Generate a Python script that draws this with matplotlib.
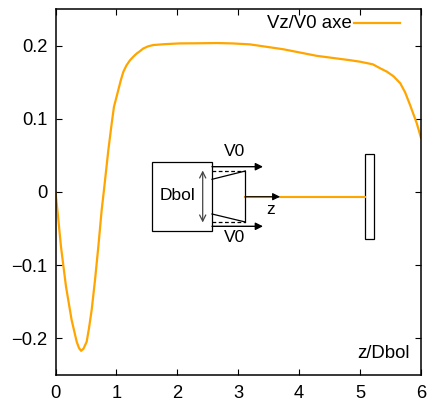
import matplotlib
matplotlib.use("Agg")
import matplotlib.pyplot as plt
from matplotlib.lines import Line2D
from matplotlib.patches import Rectangle, FancyArrowPatch

plt.rcParams['font.family'] = ['Liberation Sans', 'DejaVu Sans']

z_dbol = [0, 0.04, 0.09, 0.128, 0.172, 0.265, 0.348, 0.385, 0.42, 0.46, 0.512, 0.55, 0.594, 0.649, 0.703,
          0.758, 0.796, 0.867, 0.923, 0.96, 1.03, 1.07, 1.113, 1.165, 1.223, 1.28, 1.33, 1.38, 1.44, 1.52, 1.606,
          1.8, 2.04, 2.35, 2.65, 2.9, 3.19, 3.74, 4.29, 4.84, 5.0, 5.21, 5.33, 5.44, 5.55, 5.66, 5.74, 5.82,
          5.93, 6.0]
vz_v0 = [0, -0.032, -0.0747, -0.1, -0.129, -0.175, -0.2045, -0.213, -0.217, -0.214, -0.2045, -0.186, -0.161,
         -0.12, -0.0747, -0.0246, 0.003, 0.057, 0.094, 0.1165, 0.139, 0.152, 0.164, 0.173, 0.18, 0.185, 0.189,
         0.192, 0.196, 0.199, 0.2008, 0.202, 0.203, 0.2032, 0.2035, 0.203, 0.2017, 0.195, 0.186, 0.18, 0.178,
         0.1744, 0.169, 0.1644, 0.158, 0.1485, 0.136, 0.119, 0.094, 0.074]
x_ticks = [0, 1, 2, 3, 4, 5, 6]
y_ticks = [-0.2, -0.1, 0, 0.1, 0.2]
y_labels = ['\u22120.2', '\u22120.1', '0', '0.1', '0.2']
ORANGE = '#ffa500'
W, H = 441, 403

fig = plt.figure(figsize=(W/100, H/100), dpi=100)
ax = fig.add_axes([55.5/W, 1-375/H, (421-55.5)/W, (375-9)/H])
ax.plot(z_dbol, vz_v0, color=ORANGE, lw=1.6, clip_on=True)
ax.set_xlim(0, 6)
ax.set_ylim(-0.25, 0.25)
ax.set_xticks(x_ticks)
ax.set_yticks(y_ticks, y_labels)
ax.tick_params(direction='in', top=True, right=True, length=4, width=0.8, labelsize=13.2, pad=6)
ax.tick_params(axis='x', pad=7)
for s in ax.spines.values():
    s.set_linewidth(1.1)

def P(x, y):
    return x/W, 1-y/H

def line(x0, y0, x1, y1, **kw):
    kw.setdefault('color', 'black')
    kw.setdefault('lw', 0.9)
    fig.add_artist(Line2D([x0/W, x1/W], [1-y0/H, 1-y1/H], **kw))

def arrow(x0, y0, x1, y1, style='-|>', color='black', lw=1.0):
    fig.add_artist(FancyArrowPatch(P(x0, y0), P(x1, y1), transform=fig.transFigure, arrowstyle=style,
                                   color=color, lw=lw, shrinkA=0, shrinkB=0, mutation_scale=11, zorder=3))

def txt(x, y, s, **kw):
    fig.text(x/W, 1-y/H, s, va='center', **kw)

line(245.3, 197, 365, 197, color=ORANGE, lw=1.5)
fig.add_artist(Rectangle((151.7/W, 1-230.7/H), 60/W, 68.4/H, fill=False, ec='black', lw=0.9, transform=fig.transFigure))
fig.add_artist(Rectangle((365/W, 1-239.3/H), 8.7/W, 85.3/H, fill=False, ec='black', lw=0.9, transform=fig.transFigure))
line(212, 179.3, 245.3, 171)
line(245.3, 171, 245.3, 222)
line(245.3, 222, 212, 214)
line(212, 170.7, 245.3, 170.7, ls=(0, (3, 2)))
line(212, 222, 245.3, 222, ls=(0, (3, 2)))
arrow(212, 166.7, 263, 166.7)
arrow(212, 226.3, 263, 226.3)
arrow(245.3, 196.7, 280, 196.7, lw=0.8)
arrow(202.7, 170.5, 202.7, 222.5, style='<->', color='#444444', lw=0.9)

txt(235, 151, 'V0', ha='center', fontsize=12.5)
txt(235, 238, 'V0', ha='center', fontsize=12.5)
txt(177.5, 195, 'Dbol', ha='center', fontsize=12.5)
txt(271, 209, 'z', ha='center', fontsize=12.5)
txt(352, 23, 'Vz/V0 axe', ha='right', fontsize=13.4)
txt(410, 353, 'z/Dbol', ha='right', fontsize=13.4)
line(354, 23, 400, 23, color=ORANGE, lw=1.6)

fig.savefig('out.png', dpi=100)
